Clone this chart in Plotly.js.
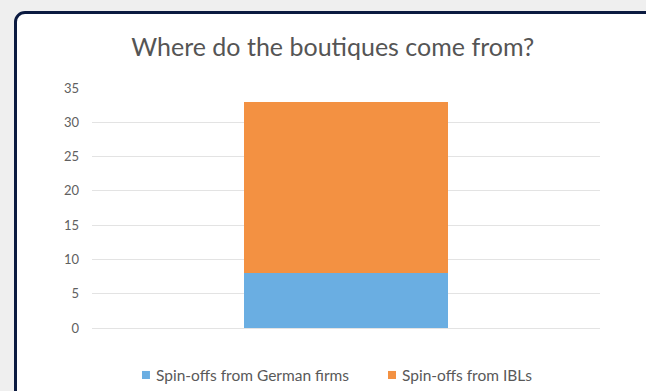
<!DOCTYPE html>
<html>
<head>
<meta charset="utf-8">
<script src="https://cdn.plot.ly/plotly-3.0.1.min.js"></script>
<style>
html,body{margin:0;padding:0;width:646px;height:391px;overflow:hidden;background:#efefef;}
#frame{position:absolute;left:14px;top:11px;width:660px;height:400px;border:3px solid #0b1a40;border-radius:11px;background:#ffffff;box-sizing:border-box;}
#chart{position:absolute;left:0;top:0;width:646px;height:391px;}
</style>
</head>
<body>
<div id="frame"></div>
<div id="chart"></div>
<script>
var categories = ["Boutiques"];
var seriesNames = ["Spin-offs from German firms", "Spin-offs from IBLs"];
var seriesColors = ["#6aaee2", "#f39142"];
var germanFirms = [8];
var ibls = [25];
var tickValues = [0, 5, 10, 15, 20, 25, 30, 35];
var tickLabels = ["0", "5", "10", "15", "20", "25", "30", "35"];

var font = "Lato, 'Open Sans', sans-serif";
var data = [
  {type: "bar", x: categories, y: germanFirms, name: seriesNames[0], marker: {color: seriesColors[0]}, width: 0.4},
  {type: "bar", x: categories, y: ibls, name: seriesNames[1], marker: {color: seriesColors[1]}, width: 0.4}
];

// custom legend (small squares close to the text)
var legX = [0.0984, 0.5827];
var shapes = [], annotations = [];
for (var i = 0; i < seriesNames.length; i++) {
  shapes.push({type: "rect", xref: "paper", yref: "paper", x0: legX[i], x1: legX[i] + 0.0157, y0: -0.2125, y1: -0.179, fillcolor: seriesColors[i], line: {width: 0}});
  annotations.push({xref: "paper", yref: "paper", x: legX[i] + 0.0236, y: -0.196, xanchor: "left", yanchor: "middle", showarrow: false, text: seriesNames[i], font: {family: font, size: 15.5, color: "#595959"}});
}

var layout = {
  width: 646, height: 391,
  margin: {l: 92, r: 46, t: 88, b: 63},
  paper_bgcolor: "rgba(0,0,0,0)",
  plot_bgcolor: "rgba(0,0,0,0)",
  barmode: "stack",
  showlegend: false,
  shapes: shapes,
  annotations: annotations,
  title: {text: "Where do the boutiques come from?", x: 0.515, xanchor: "center", y: 0.88, yanchor: "middle", font: {family: font, size: 25, color: "#555555"}},
  xaxis: {showticklabels: false, showgrid: false, zeroline: false, showline: false, ticks: "", fixedrange: true},
  yaxis: {range: [0, 35], tickvals: tickValues, ticktext: tickLabels, showgrid: true, gridcolor: "#e3e3e3", gridwidth: 1, zeroline: true, zerolinecolor: "#e3e3e3", showline: false, ticks: "", ticklabelstandoff: 12, tickfont: {family: font, size: 13, color: "#606060"}}
};
Plotly.newPlot("chart", data, layout, {displayModeBar: false, staticPlot: true});
</script>
</body>
</html>
